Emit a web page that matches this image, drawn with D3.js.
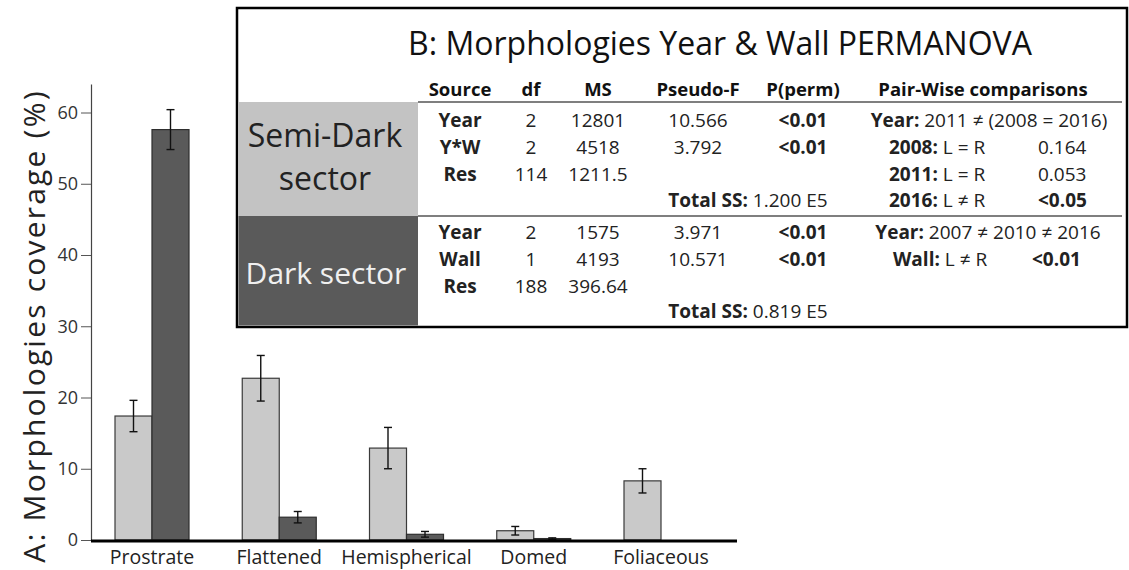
<!DOCTYPE html>
<html>
<head>
<meta charset="utf-8">
<script src="https://cdn.jsdelivr.net/npm/d3@7"></script>
<style>
  body { margin: 0; background: #fff; }
  text { font-family: "Open Sans", sans-serif; }
</style>
</head>
<body>
<script>
// A: morphology coverage (%), semi-dark (light bars) vs dark (dark bars)
var categories = ["Prostrate", "Flattened", "Hemispherical", "Domed", "Foliaceous"];
var semiDark = [17.4, 22.7, 12.9, 1.3, 8.3];
var semiErr  = [2.2, 3.2, 2.9, 0.6, 1.7];
var dark     = [57.6, 3.2, 0.8, 0.2, 0];
var darkErr  = [2.8, 0.8, 0.4, 0.1, 0];
var yTicks   = [0, 10, 20, 30, 40, 50, 60];

// B: PERMANOVA table
var tableTitle = "B: Morphologies Year & Wall PERMANOVA";
var headers = ["Source", "df", "MS", "Pseudo-F", "P(perm)", "Pair-Wise comparisons"];
var semiRows = [
  ["Year", "2", "12801", "10.566", "<0.01"],
  ["Y*W", "2", "4518", "3.792", "<0.01"],
  ["Res", "114", "1211.5", "", ""]
];
var darkRows = [
  ["Year", "2", "1575", "3.971", "<0.01"],
  ["Wall", "1", "4193", "10.571", "<0.01"],
  ["Res", "188", "396.64", "", ""]
];
var semiTotal = "1.200 E5";
var darkTotal = "0.819 E5";
var semiPairs = [["2008:", "L = R", "0.164", false], ["2011:", "L = R", "0.053", false], ["2016:", "L \u2260 R", "<0.05", true]];
var semiYearPair = "2011 \u2260 (2008 = 2016)";
var darkYearPair = "2007 \u2260 2010 \u2260 2016";
var darkWallPair = ["Wall:", "L \u2260 R", "<0.01"];

var w = 1129, h = 570;
var svg = d3.select("body").append("svg")
  .attr("width", w).attr("height", h);

svg.append("rect").attr("width", w).attr("height", h).attr("fill", "#fff");

// ---- bar chart ----
var y = d3.scaleLinear().domain([0, 64]).range([540, 84]);
var x = d3.scalePoint().domain(categories).range([152, 661]);
var bw = 37;

var yAxis = svg.append("g")
  .attr("transform", "translate(91,0)")
  .call(d3.axisLeft(y).tickValues(yTicks).tickSize(10).tickPadding(3).tickSizeOuter(0));
yAxis.select(".domain").attr("stroke", "#444").attr("stroke-width", 1.2);
yAxis.selectAll(".tick line").attr("stroke", "#555");
yAxis.selectAll(".tick text")
  .attr("font-size", "18px").attr("fill", "#333")
  .style("font-family", "'Open Sans', sans-serif");

svg.append("text")
  .attr("transform", "translate(45," + 326 + ") rotate(-90)")
  .attr("text-anchor", "middle")
  .attr("font-size", "30px")
  .attr("letter-spacing", "2.2px")
  .attr("fill", "#222")
  .text("A: Morphologies coverage (%)");

var bars = svg.append("g");
bars.selectAll("rect.semi")
  .data(semiDark).enter().append("rect")
  .attr("class", "semi")
  .attr("x", function(d, i) { return x(categories[i]) - bw; })
  .attr("y", function(d) { return y(d); })
  .attr("width", bw)
  .attr("height", function(d) { return y(0) - y(d); })
  .attr("fill", "#c9c9c9")
  .attr("stroke", "#3a3a3a")
  .attr("stroke-width", 1.2);

bars.selectAll("rect.dark")
  .data(dark).enter().append("rect")
  .attr("class", "dark")
  .attr("x", function(d, i) { return x(categories[i]); })
  .attr("y", function(d) { return y(d); })
  .attr("width", bw)
  .attr("height", function(d) { return y(0) - y(d); })
  .attr("fill", "#5a5a5a")
  .attr("stroke", "#2e2e2e")
  .attr("stroke-width", 1.2);

function errorBars(vals, errs, offset) {
  var g = svg.append("g").attr("stroke", "#111").attr("stroke-width", 1.4);
  vals.forEach(function(v, i) {
    if (!errs[i]) return;
    var cx = x(categories[i]) + offset;
    g.append("line").attr("x1", cx).attr("x2", cx)
      .attr("y1", y(v + errs[i])).attr("y2", y(v - errs[i]));
    [v + errs[i], v - errs[i]].forEach(function(e) {
      g.append("line").attr("x1", cx - 4).attr("x2", cx + 4)
        .attr("y1", y(e)).attr("y2", y(e));
    });
  });
}
errorBars(semiDark, semiErr, -bw / 2);
errorBars(dark, darkErr, bw / 2);

// baseline
svg.append("line")
  .attr("x1", 91).attr("x2", 737)
  .attr("y1", y(0) + 1).attr("y2", y(0) + 1)
  .attr("stroke", "#000").attr("stroke-width", 3);

svg.selectAll("text.cat")
  .data(categories).enter().append("text")
  .attr("class", "cat")
  .attr("x", function(d) { return x(d); })
  .attr("y", 564)
  .attr("text-anchor", "middle")
  .attr("font-size", "19.5px")
  .attr("fill", "#222")
  .text(function(d) { return d; });

// ---- PERMANOVA table ----
var tb = svg.append("g");
tb.append("rect")
  .attr("x", 237).attr("y", 8).attr("width", 890).attr("height", 319)
  .attr("fill", "#fff").attr("stroke", "#000").attr("stroke-width", 2.5);
tb.append("rect").attr("x", 238.5).attr("y", 102).attr("width", 179.5).attr("height", 114)
  .attr("fill", "#c3c3c3");
tb.append("rect").attr("x", 238.5).attr("y", 216).attr("width", 179.5).attr("height", 109.5)
  .attr("fill", "#5a5a5a");

tb.append("text").attr("x", 720).attr("y", 55)
  .attr("text-anchor", "middle").attr("font-size", "32px").attr("fill", "#111")
  .text(tableTitle);

tb.append("text").attr("x", 325).attr("y", 147).attr("text-anchor", "middle")
  .attr("font-size", "32px").attr("fill", "#222").text("Semi-Dark");
tb.append("text").attr("x", 325).attr("y", 190).attr("text-anchor", "middle")
  .attr("font-size", "32px").attr("fill", "#222").text("sector");
tb.append("text").attr("x", 326).attr("y", 284).attr("text-anchor", "middle")
  .attr("font-size", "30px").attr("fill", "#f0f0f0").text("Dark sector");

var colX = [460, 531, 598, 698, 803, 983];
tb.selectAll("text.hd")
  .data(headers).enter().append("text")
  .attr("class", "hd")
  .attr("x", function(d, i) { return colX[i]; })
  .attr("y", 96)
  .attr("text-anchor", "middle")
  .attr("font-size", "18.5px").attr("font-weight", "bold").attr("fill", "#111")
  .text(function(d) { return d; });

tb.append("line").attr("x1", 418).attr("x2", 1122).attr("y1", 102).attr("y2", 102)
  .attr("stroke", "#555").attr("stroke-width", 1.5);
tb.append("line").attr("x1", 418).attr("x2", 1122).attr("y1", 216).attr("y2", 216)
  .attr("stroke", "#555").attr("stroke-width", 1.5);

var fs = "19px";
function drawRows(rows, baselines) {
  rows.forEach(function(r, ri) {
    r.forEach(function(cell, ci) {
      if (!cell) return;
      tb.append("text")
        .attr("x", colX[ci]).attr("y", baselines[ri])
        .attr("text-anchor", "middle")
        .attr("font-size", fs)
        .attr("font-weight", (ci === 0 || ci === 4) ? "bold" : "normal")
        .attr("fill", "#222")
        .text(cell);
    });
  });
}
var semiBase = [127, 154, 181, 207];
var darkBase = [239, 266, 293, 318];
drawRows(semiRows, semiBase);
drawRows(darkRows, darkBase);

function mixed(xp, yp, bold, rest, anchor) {
  var t = tb.append("text").attr("x", xp).attr("y", yp)
    .attr("text-anchor", anchor || "start")
    .attr("font-size", fs).attr("fill", "#222");
  t.append("tspan").attr("font-weight", "bold").text(bold);
  t.append("tspan").text(" " + rest);
  return t;
}
mixed(748, semiBase[3], "Total SS:", semiTotal, "middle");
mixed(748, darkBase[3], "Total SS:", darkTotal, "middle");
mixed(989, semiBase[0], "Year:", semiYearPair, "middle");
mixed(988, darkBase[0], "Year:", darkYearPair, "middle");

semiPairs.forEach(function(p, i) {
  mixed(889, semiBase[i + 1], p[0], p[1]);
  tb.append("text").attr("x", 1038).attr("y", semiBase[i + 1])
    .attr("font-size", fs).attr("fill", "#222")
    .attr("font-weight", p[3] ? "bold" : "normal")
    .text(p[2]);
});
mixed(893, darkBase[1], darkWallPair[0], darkWallPair[1]);
tb.append("text").attr("x", 1032).attr("y", darkBase[1])
  .attr("font-size", fs).attr("font-weight", "bold").attr("fill", "#222")
  .text(darkWallPair[2]);
</script>
</body>
</html>
